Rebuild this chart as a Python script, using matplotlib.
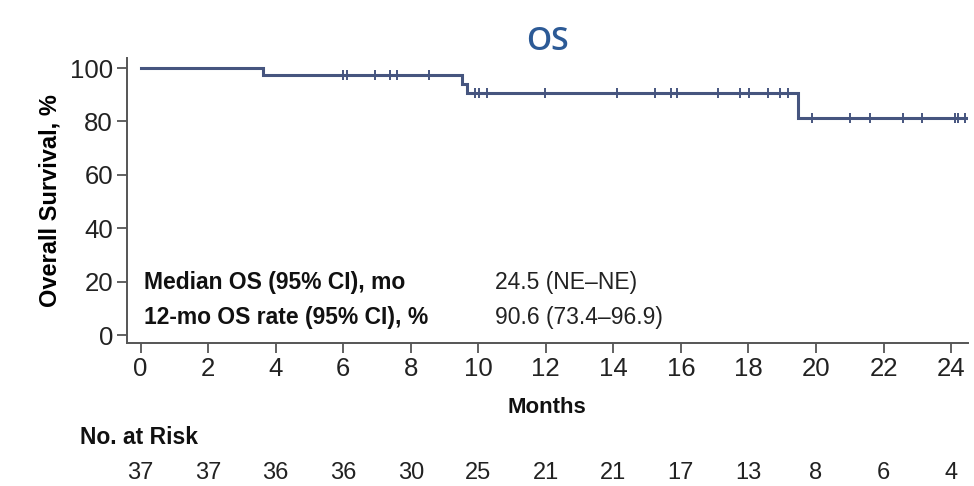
import matplotlib.pyplot as plt
import matplotlib.transforms as mtransforms
import numpy as np

# Kaplan-Meier step data
event_times = [0, 3.64, 9.52, 9.66, 19.48]
surv_pct = [100, 97.3, 94.0, 90.6, 81.3]
end_time = 24.45

censor_times = [6.0, 6.1, 6.93, 7.40, 7.59, 8.53,
                9.91, 10.01, 10.26, 11.98, 14.10, 15.24, 15.71, 15.88,
                17.11, 17.75, 18.03, 18.59, 18.93, 19.18,
                19.87, 21.01, 21.60, 22.58, 23.13, 24.11, 24.21, 24.41]

risk_times = [0, 2, 4, 6, 8, 10, 12, 14, 16, 18, 20, 22, 24]
at_risk = [37, 37, 36, 36, 30, 25, 21, 21, 17, 13, 8, 6, 4]

stats_labels = ["Median OS (95% CI), mo", "12-mo OS rate (95% CI), %"]
stats_values = ["24.5 (NE\u2013NE)", "90.6 (73.4\u201396.9)"]

plt.rcParams['font.family'] = ['Liberation Sans', 'DejaVu Sans']

line_col = '#46557f'
spine_col = '#555555'

fig = plt.figure(figsize=(9.74, 4.86), dpi=100)
ax = fig.add_axes([0.1304, 0.2942, 0.8634, 0.5864])

xs = np.append(event_times, end_time)
ys = np.append(surv_pct, surv_pct[-1])
ax.step(xs, ys, where='post', color=line_col, lw=2.2, solid_joinstyle='miter')

# censor marks sit on the curve
idx = np.searchsorted(event_times, censor_times, side='right') - 1
cens_y = np.array(surv_pct)[idx]
ax.plot(censor_times, cens_y, ls='none', marker='|', ms=7, mew=1.4, color=line_col)

ax.set_xlim(-0.4, 24.5)
ax.set_ylim(-3, 103.75)
ax.set_xticks(risk_times)
ax.set_yticks([0, 20, 40, 60, 80, 100])
for s in ['top', 'right']:
    ax.spines[s].set_visible(False)
for s in ['left', 'bottom']:
    ax.spines[s].set_color(spine_col)
    ax.spines[s].set_linewidth(1.4)
ax.tick_params(axis='both', labelsize=18.5, length=7, width=1.3, color=spine_col,
               pad=3, labelcolor='#222222')

ax.set_ylabel('Overall Survival, %', fontsize=17, fontweight='bold', labelpad=6)
fig.text(0.5618, 0.162, 'Months', ha='center', va='center', fontsize=16,
         fontweight='bold', color='#111111')

ax.text(0.5, 1.0, 'OS', transform=ax.transAxes, ha='center', va='bottom',
        fontsize=23, fontweight='semibold', color='#2c5a96',
        family=['Open Sans', 'DejaVu Sans'])

stat_y = [19.5, 6.4]
for lab, val, yy in zip(stats_labels, stats_values, stat_y):
    ax.text(0.09, yy, lab, ha='left', va='center', fontsize=16.5,
            fontweight='bold', color='#111111')
    ax.text(10.5, yy, val, ha='left', va='center', fontsize=16.5, color='#222222')

# number at risk table
fig.text(0.082, 0.0988, 'No. at Risk', ha='left', va='center', fontsize=16.5,
         fontweight='bold', color='#111111')
btrans = mtransforms.blended_transform_factory(ax.transData, fig.transFigure)
for t, n in zip(risk_times, at_risk):
    fig.text(t, 0.0267, str(n), transform=btrans, ha='center', va='center',
             fontsize=17, color='#222222')

fig.savefig('out.png', dpi=100)
